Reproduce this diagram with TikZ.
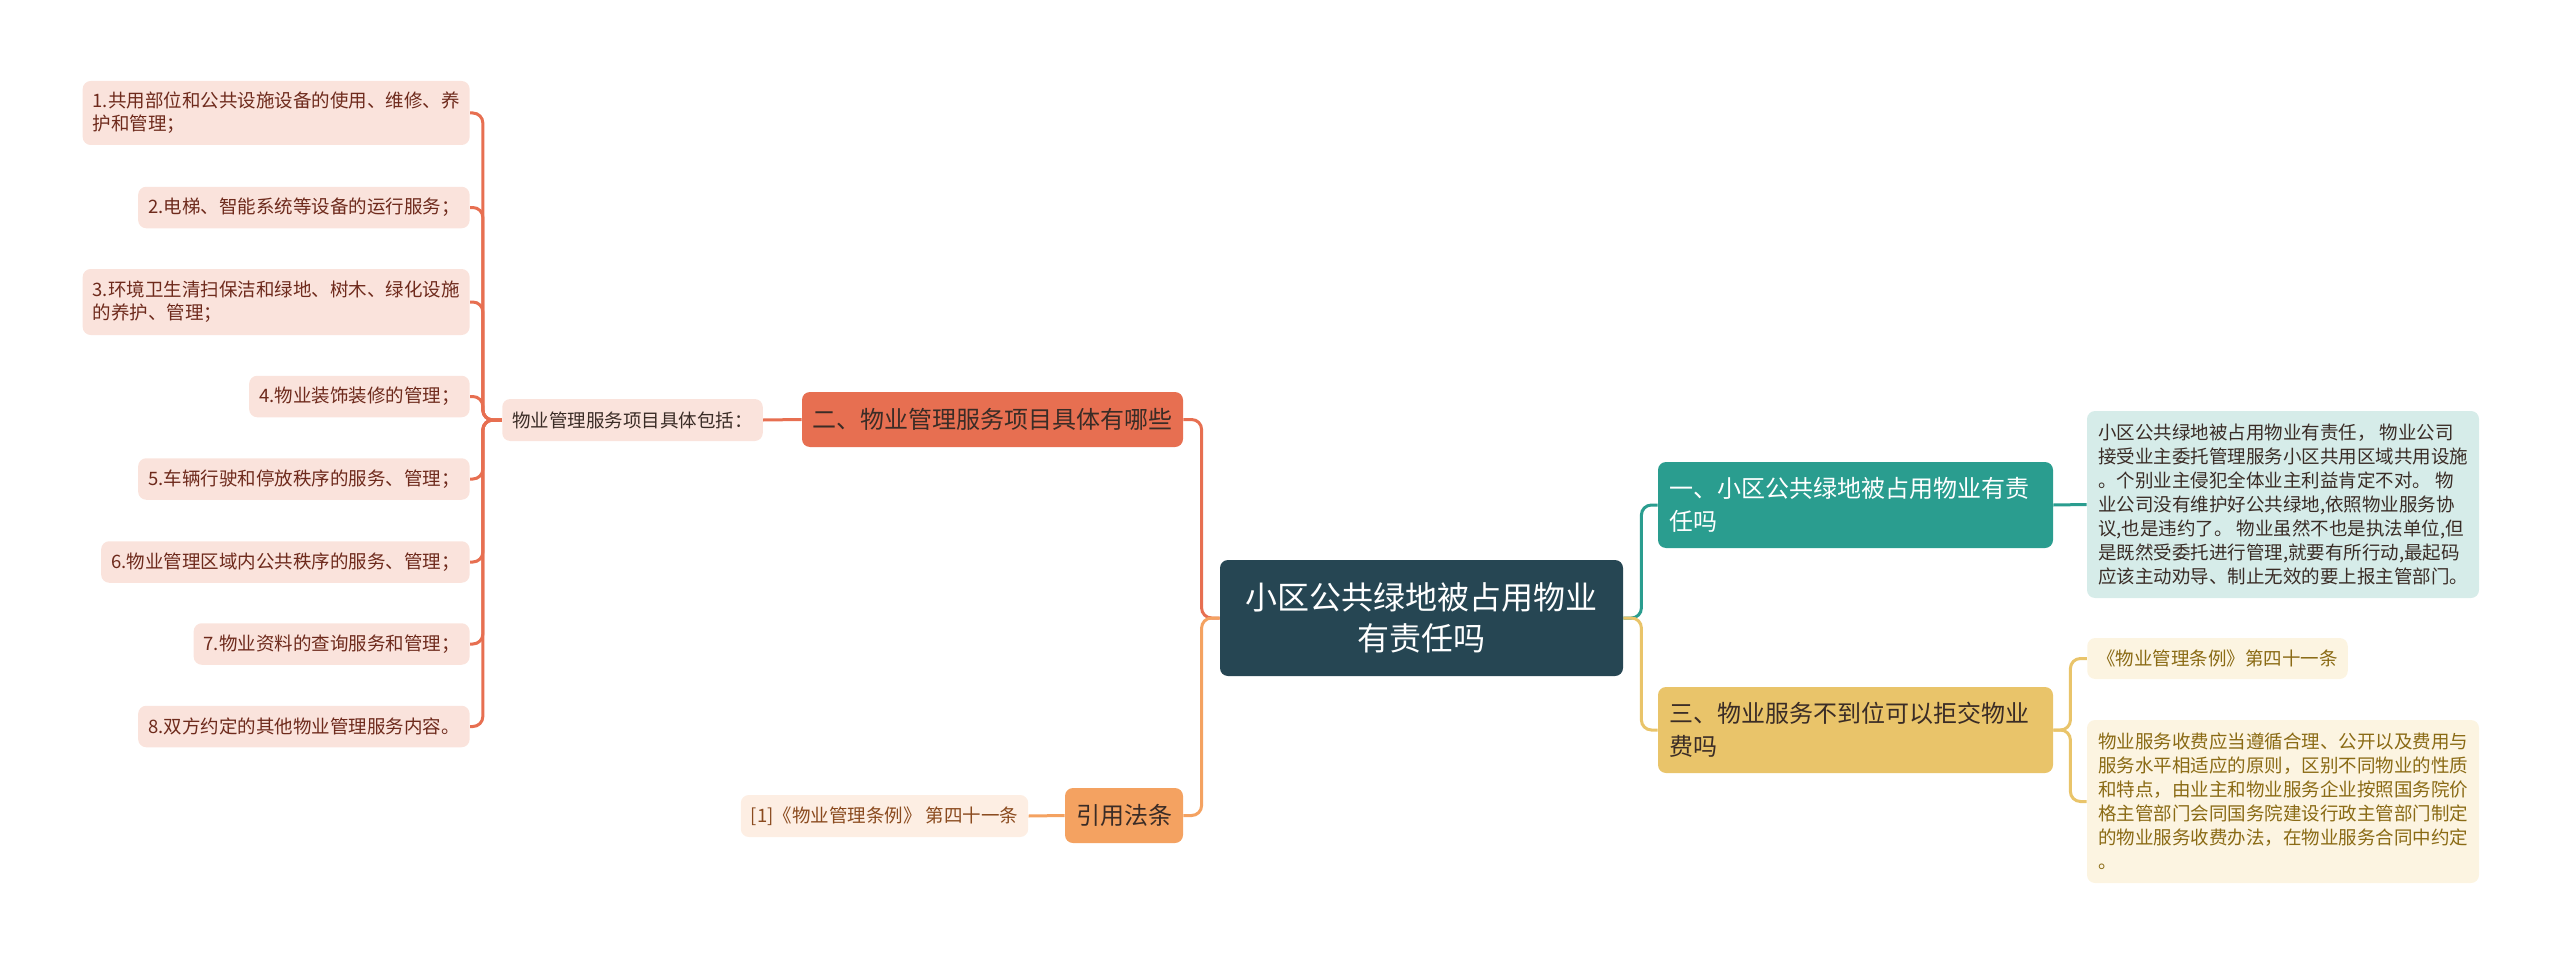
\documentclass[tikz,border=0pt]{standalone}
\usepackage{fontspec}
\newfontfamily\cjk{Noto Sans CJK SC}
\usepackage{tikz}
\usetikzlibrary{positioning}
\usepackage{xcolor}

\definecolor{rootfill}{HTML}{264653}
\definecolor{tealfill}{HTML}{2A9D8F}
\definecolor{tealpale}{HTML}{D6ECE9}
\definecolor{goldfill}{HTML}{E9C46A}
\definecolor{goldpale}{HTML}{FCF4E1}
\definecolor{goldtext}{HTML}{8A6A14}
\definecolor{redfill}{HTML}{E76F51}
\definecolor{redpale}{HTML}{FAE3DC}
\definecolor{redtext}{HTML}{6E2A1C}
\definecolor{orangefill}{HTML}{F4A261}
\definecolor{orangepale}{HTML}{FDEEE3}
\definecolor{orangetext}{HTML}{8A4A1E}
\definecolor{darktext}{HTML}{3A2C26}

\begin{document}
\begin{tikzpicture}[x=0.5pt, y=-0.5pt,
  box/.style={rounded corners=4pt, font=\cjk, inner ysep=0pt, inner xsep=5pt},
  rootbox/.style={box, fill=rootfill, text=white, align=center,
    font=\cjk\fontsize{16}{20.5}\selectfont, minimum width=201.5pt, minimum height=58pt},
  topic/.style={box, text width=186pt, inner xsep=5.75pt, align=left,
    font=\cjk\fontsize{12}{16.5}\selectfont, minimum height=43pt},
  branch/.style={box, font=\cjk\fontsize{12}{16.5}\selectfont, minimum height=27.5pt},
  item/.style={box, fill=redpale, text=redtext, align=left,
    font=\cjk\fontsize{9.25}{11.5}\selectfont, minimum height=20.75pt},
  note/.style={box, align=left, font=\cjk\fontsize{9.25}{12}\selectfont},
  link/.style={line width=1.5pt, rounded corners=5pt}
]
\useasboundingbox (0,0) rectangle (2560,963);

% Central topic
\node[rootbox] (root) at (1421.5,618) {小区公共绿地被占用物业\\有责任吗};

% Right side: first question
\node[topic, fill=tealfill, text=white] (q1) at (1855.5,505)
  {一、小区公共绿地被占用物业有责\\任吗};
\node[note, fill=tealpale, text=darktext, minimum width=196pt, minimum height=93.5pt]
  (q1text) at (2283,504.5)
  {小区公共绿地被占用物业有责任， 物业公司\\
   接受业主委托管理服务小区共用区域共用设施\\
   。个别业主侵犯全体业主利益肯定不对。 物\\
   业公司没有维护好公共绿地,依照物业服务协\\
   议,也是违约了。 物业虽然不也是执法单位,但\\
   是既然受委托进行管理,就要有所行动,最起码\\
   应该主动劝导、制止无效的要上报主管部门。};

% Right side: third question
\node[topic, fill=goldfill, text=darktext] (q3) at (1855.5,730)
  {三、物业服务不到位可以拒交物业\\费吗};
\node[note, fill=goldpale, text=goldtext, minimum height=20.5pt]
  (q3law) at (2217.5,658.5) {《物业管理条例》第四十一条};
\node[note, fill=goldpale, text=goldtext, minimum width=196pt, minimum height=81.5pt]
  (q3text) at (2283,801.5)
  {物业服务收费应当遵循合理、公开以及费用与\\
   服务水平相适应的原则，区别不同物业的性质\\
   和特点，由业主和物业服务企业按照国务院价\\
   格主管部门会同国务院建设行政主管部门制定\\
   的物业服务收费办法，在物业服务合同中约定\\
   。};

% Left side: second question
\node[branch, fill=redfill, text=darktext, minimum width=190.5pt] (q2) at (992.5,419.5)
  {二、物业管理服务项目具体有哪些};
\node[item, text=darktext, minimum height=21pt] (q2sub) at (632.5,420)
  {物业管理服务项目具体包括：};

% Service items
\node[item, anchor=east, minimum height=32pt] (i1) at (470,113)
  {1.共用部位和公共设施设备的使用、维修、养\\护和管理；};
\node[item, anchor=east] (i2) at (470,207.5) {2.电梯、智能系统等设备的运行服务；};
\node[item, anchor=east, minimum height=33pt] (i3) at (470,302)
  {3.环境卫生清扫保洁和绿地、树木、绿化设施\\的养护、管理；};
\node[item, anchor=east] (i4) at (470,396.5) {4.物业装饰装修的管理；};
\node[item, anchor=east] (i5) at (470,479) {5.车辆行驶和停放秩序的服务、管理；};
\node[item, anchor=east] (i6) at (470,562) {6.物业管理区域内公共秩序的服务、管理；};
\node[item, anchor=east] (i7) at (470,644) {7.物业资料的查询服务和管理；};
\node[item, anchor=east] (i8) at (470,726.5) {8.双方约定的其他物业管理服务内容。};

% Left side: cited law
\node[branch, fill=orangefill, text=darktext, minimum width=59pt] (law) at (1124,815.5)
  {引用法条};
\node[note, fill=orangepale, text=orangetext, minimum height=21pt] (lawref) at (884.5,816)
  {[1]《物业管理条例》 第四十一条};

% Connectors
\draw[link, tealfill] (root.east) -- ++(18,0) |- (q1.west);
\draw[link, goldfill] (root.east) -- ++(18,0) |- (q3.west);
\draw[link, tealfill] (q1.east) -- (q1text.west);
\draw[link, goldfill] (q3.east) -- ++(17,0) |- (q3law.west);
\draw[link, goldfill] (q3.east) -- ++(17,0) |- (q3text.west);
\draw[link, redfill] (root.west) -- ++(-18,0) |- (q2.east);
\draw[link, orangefill] (root.west) -- ++(-18,0) |- (law.east);
\draw[link, redfill] (q2.west) -- (q2sub.east);
\foreach \i in {1,...,8}
  \draw[link, redfill] (q2sub.west) -- ++(-19,0) |- (i\i.east);
\draw[link, orangefill] (law.west) -- (lawref.east);
\end{tikzpicture}
\end{document}
